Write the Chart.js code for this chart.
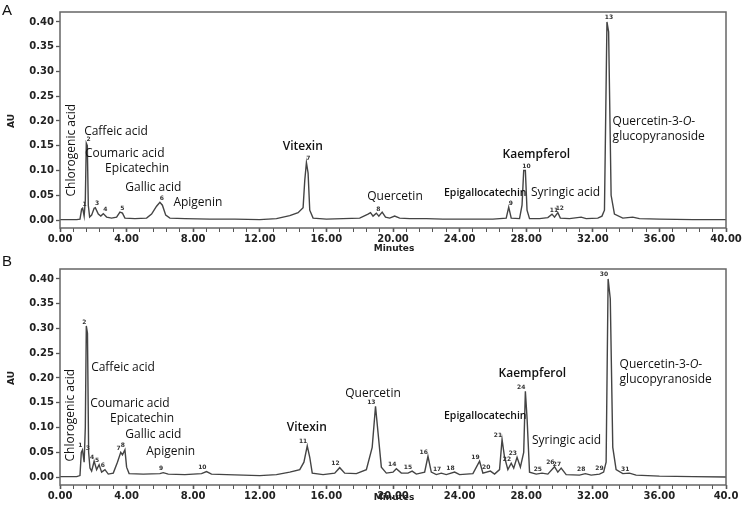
<!DOCTYPE html>
<html>
<head>
<meta charset="utf-8">
<script src="https://cdn.jsdelivr.net/npm/chart.js@4.4.1/dist/chart.umd.min.js"></script>
<style>
  body { margin: 0; background: #fff; }
  #wrap { position: relative; width: 744px; height: 511px; }
  canvas { position: absolute; left: 0; }
  #chartA { top: 0; }
  #chartB { top: 250px; }
</style>
</head>
<body>
<div id="wrap">
  <canvas id="chartA" width="744" height="256"></canvas>
  <canvas id="chartB" width="744" height="261"></canvas>
</div>
<script>
// ---- data: panel A (retention time in minutes, absorbance in AU)
const timesA = [0, 1.0, 1.2, 1.3, 1.36, 1.45, 1.52, 1.58, 1.64, 1.7, 1.78, 1.9, 2.05, 2.12, 2.3, 2.45, 2.6, 2.8, 3.1, 3.4,
  3.6, 3.75, 3.9, 4.5, 5.2, 5.5, 5.8, 6.0, 6.15, 6.35, 6.6, 7.5, 9, 10.5, 12, 13, 13.8, 14.3, 14.6, 14.7,
  14.8, 14.9, 15.0, 15.2, 16, 17, 18.0, 18.5, 18.65, 18.8, 19.0, 19.15, 19.35, 19.55, 19.8, 20.1, 20.4, 21, 22, 23,
  24, 25, 26, 26.8, 26.95, 27.1, 27.6, 27.75, 27.85, 27.95, 28.05, 28.2, 28.8, 29.3, 29.55, 29.7, 29.9, 30.05, 30.6, 31.3,
  31.6, 32.3, 32.55, 32.7, 32.85, 32.95, 33.1, 33.3, 33.8, 34.4, 34.8, 36, 38, 40];
const auA = [0.001, 0.001, 0.002, 0.022, 0.024, 0.008, 0.04, 0.155, 0.15, 0.03, 0.006, 0.01, 0.024, 0.025, 0.012, 0.008, 0.013, 0.006, 0.004, 0.006,
  0.016, 0.014, 0.004, 0.003, 0.004, 0.012, 0.028, 0.036, 0.03, 0.01, 0.004, 0.003, 0.002, 0.002, 0.001, 0.003, 0.009, 0.015, 0.025, 0.08,
  0.116, 0.095, 0.02, 0.004, 0.002, 0.003, 0.004, 0.012, 0.015, 0.008, 0.014, 0.008, 0.016, 0.006, 0.004, 0.008, 0.004, 0.003, 0.003, 0.002,
  0.002, 0.002, 0.002, 0.004, 0.026, 0.004, 0.003, 0.03, 0.1, 0.1, 0.02, 0.003, 0.003, 0.005, 0.012, 0.006, 0.015, 0.004, 0.003, 0.006,
  0.003, 0.004, 0.008, 0.02, 0.4, 0.38, 0.05, 0.012, 0.004, 0.006, 0.003, 0.002, 0.001, 0.001];
const peakTimesA = [1.36, 1.6, 2.1, 2.6, 3.62, 6.0, 14.8, 19.0, 26.95, 27.9, 29.55, 29.9, 32.85];

// ---- data: panel B
const timesB = [0, 1.0, 1.2, 1.28, 1.35, 1.45, 1.52, 1.58, 1.65, 1.72, 1.8, 1.9, 2.05, 2.2, 2.35, 2.5, 2.7, 2.9, 3.2, 3.45,
  3.65, 3.75, 3.9, 4.0, 4.15, 5, 6, 6.2, 6.5, 7.5, 8.5, 8.8, 9.1, 10, 11, 12, 13, 13.8, 14.4, 14.65,
  14.85, 15.0, 15.15, 15.8, 16.5, 16.8, 17.1, 17.8, 18.4, 18.75, 18.95, 19.1, 19.3, 19.6, 20.0, 20.2, 20.5, 20.9, 21.15, 21.4,
  21.9, 22.1, 22.3, 22.6, 22.9, 23.2, 23.7, 24, 24.8, 25.2, 25.4, 25.85, 26.1, 26.4, 26.55, 26.7, 26.9, 27.1, 27.25, 27.45,
  27.65, 27.85, 27.95, 28.05, 28.2, 28.6, 28.95, 29.3, 29.7, 29.9, 30.1, 30.4, 31.2, 31.55, 31.9, 32.4, 32.65, 32.8, 32.92, 33.05,
  33.2, 33.4, 33.8, 34.2, 34.6, 36, 38, 40];
const auB = [0.001, 0.001, 0.003, 0.05, 0.055, 0.03, 0.1, 0.305, 0.29, 0.05, 0.018, 0.012, 0.032, 0.015, 0.025, 0.01, 0.015, 0.006, 0.008, 0.03,
  0.05, 0.045, 0.055, 0.02, 0.007, 0.006, 0.007, 0.009, 0.006, 0.005, 0.007, 0.011, 0.006, 0.005, 0.004, 0.003, 0.005, 0.01, 0.015, 0.03,
  0.063, 0.04, 0.008, 0.005, 0.008, 0.019, 0.008, 0.007, 0.015, 0.06, 0.143, 0.09, 0.02, 0.008, 0.01, 0.017, 0.008, 0.008, 0.012, 0.006,
  0.01, 0.042, 0.01, 0.005, 0.008, 0.005, 0.01, 0.005, 0.007, 0.032, 0.008, 0.012, 0.006, 0.015, 0.076, 0.04, 0.015, 0.028, 0.018, 0.04,
  0.02, 0.05, 0.173, 0.12, 0.01, 0.006, 0.008, 0.006, 0.021, 0.01, 0.018, 0.005, 0.004, 0.007, 0.004, 0.006, 0.01, 0.03, 0.4, 0.36,
  0.06, 0.015, 0.007, 0.008, 0.004, 0.002, 0.001, 0];
const peakTimesB = [1.35, 1.58, 1.8, 2.05, 2.35, 2.7, 3.65, 3.9, 6.2, 8.8, 14.85, 16.8, 18.95, 20.2, 21.15, 22.1, 22.9, 23.7, 25.2, 25.85,
  26.55, 27.1, 27.45, 27.95, 28.95, 29.7, 30.1, 31.55, 32.65, 32.92, 34.2];

// ---- tick labels
const yTicks = [0, 0.05, 0.10, 0.15, 0.20, 0.25, 0.30, 0.35, 0.40];
const yLabels = ['0.00', '0.05', '0.10', '0.15', '0.20', '0.25', '0.30', '0.35', '0.40'];
const xLabelsA = ['0.00', '4.00', '8.00', '12.00', '16.00', '20.00', '24.00', '28.00', '32.00', '36.00', '40.00'];
const xLabelsB = ['0.00', '4.00', '8.00', '12.00', '16.00', '20.00', '24.00', '28.00', '32.00', '36.00', '40.0'];

// compound names, anchored in data coords (minutes, AU)
const namesA = [
  { text: 'Chlorogenic acid', t: 0.72, v: 0.141, rot: true },
  { text: 'Caffeic acid', t: 1.45, v: 0.178, align: 'left' },
  { text: 'Coumaric acid', t: 1.5, v: 0.135, align: 'left' },
  { text: 'Epicatechin', t: 2.71, v: 0.103, align: 'left' },
  { text: 'Gallic acid', t: 3.92, v: 0.065, align: 'left' },
  { text: 'Apigenin', t: 6.81, v: 0.036, align: 'left' },
  { text: 'Vitexin', t: 14.58, v: 0.149, bold: true },
  { text: 'Quercetin', t: 20.12, v: 0.048 },
  { text: 'Epigallocatechin', t: 25.54, v: 0.055, bold: true, size: 10.5 },
  { text: 'Kaempferol', t: 28.61, v: 0.133, bold: true },
  { text: 'Syringic acid', t: 30.36, v: 0.055 },
  { text: ['Quercetin-3-', ['O'], '-'], t: 33.19, v: 0.198, align: 'left' },
  { text: 'glucopyranoside', t: 33.19, v: 0.168, align: 'left' }
];
const namesB = [
  { text: 'Chlorogenic acid', t: 0.66, v: 0.125, rot: true },
  { text: 'Caffeic acid', t: 1.87, v: 0.221, align: 'left' },
  { text: 'Coumaric acid', t: 1.81, v: 0.149, align: 'left' },
  { text: 'Epicatechin', t: 3.01, v: 0.118, align: 'left' },
  { text: 'Gallic acid', t: 3.92, v: 0.086, align: 'left' },
  { text: 'Apigenin', t: 5.18, v: 0.052, align: 'left' },
  { text: 'Vitexin', t: 14.82, v: 0.100, bold: true },
  { text: 'Quercetin', t: 18.8, v: 0.169 },
  { text: 'Epigallocatechin', t: 25.54, v: 0.124, bold: true, size: 10.5 },
  { text: 'Kaempferol', t: 28.37, v: 0.209, bold: true },
  { text: 'Syringic acid', t: 30.42, v: 0.074 },
  { text: ['Quercetin-3-', ['O'], '-'], t: 33.61, v: 0.227, align: 'left' },
  { text: 'glucopyranoside', t: 33.61, v: 0.197, align: 'left' }
];

const minorX = [];
for (let i = 0; i <= 50; i++) minorX.push(Math.round(i * 8) / 10);
const isMajor = v => Math.abs(v / 4 - Math.round(v / 4)) < 1e-6;

function drawRich(ctx, parts, x, y, font, italicFont) {
  let cx = x;
  parts.forEach(p => {
    const it = Array.isArray(p);
    const s = it ? p[0] : p;
    ctx.font = it ? italicFont : font;
    ctx.fillText(s, cx, y);
    cx += ctx.measureText(s).width;
  });
}

const decor = {
  id: 'decor',
  afterDatasetsDraw(chart, args, o) {
    const ctx = chart.ctx, a = chart.chartArea;
    const xs = chart.scales.x, ys = chart.scales.y;
    ctx.save();
    ctx.strokeStyle = '#666';
    ctx.lineWidth = 1.5;
    ctx.strokeRect(a.left, a.top, a.right - a.left, a.bottom - a.top);

    ctx.fillStyle = '#111';
    ctx.textAlign = 'left';
    ctx.textBaseline = 'top';
    ctx.font = '15px "Liberation Sans"';
    ctx.fillText(o.letter, 2, o.letterY);

    // axis titles
    ctx.font = 'bold 9px "DejaVu Sans"';
    ctx.textAlign = 'center';
    ctx.textBaseline = 'middle';
    ctx.fillStyle = '#222';
    ctx.fillText('Minutes', 394, o.minutesY);
    ctx.save();
    ctx.translate(12, ys.getPixelForValue(0.2));
    ctx.rotate(-Math.PI / 2);
    ctx.fillText('AU', 0, 0);
    ctx.restore();

    // compound names
    ctx.fillStyle = '#111';
    o.names.forEach(n => {
      const x = xs.getPixelForValue(n.t), y = ys.getPixelForValue(n.v);
      const sz = n.size || 12;
      const font = (n.bold ? '600 ' : '500 ') + sz + 'px "Open Sans"';
      ctx.textBaseline = 'middle';
      if (n.rot) {
        ctx.save();
        ctx.translate(x, y);
        ctx.rotate(-Math.PI / 2);
        ctx.textAlign = 'center';
        ctx.font = font;
        ctx.fillText(n.text, 0, 0);
        ctx.restore();
      } else if (Array.isArray(n.text)) {
        ctx.textAlign = 'left';
        drawRich(ctx, n.text, x, y, font, 'italic ' + font);
      } else {
        ctx.textAlign = n.align || 'center';
        ctx.font = font;
        ctx.fillText(n.text, x, y);
      }
    });

    // peak numbers above each apex
    ctx.font = 'bold 6px "DejaVu Sans"';
    ctx.textAlign = o.numAlign;
    ctx.textBaseline = 'bottom';
    ctx.fillStyle = '#333';
    o.peaks.forEach((pt, i) => {
      let best = 0;
      o.times.forEach((t, j) => { if (Math.abs(t - pt) <= 0.12 && o.vals[j] > best) best = o.vals[j]; });
      const x = xs.getPixelForValue(pt) + o.numDx, y = ys.getPixelForValue(best) - 1;
      ctx.fillText(String(i + 1), x, y);
    });
    ctx.restore();
  }
};

function makeChart(id, cfg) {
  return new Chart(document.getElementById(id), {
    type: 'line',
    data: {
      datasets: [{
        data: cfg.times.map((t, i) => ({ x: t, y: cfg.vals[i] })),
        borderColor: '#444',
        borderWidth: 1.4,
        pointRadius: 0,
        tension: 0
      }]
    },
    options: {
      responsive: false,
      animation: false,
      layout: { padding: { top: cfg.top, right: 18, left: 0, bottom: 0 } },
      plugins: { legend: { display: false }, tooltip: { enabled: false }, decor: cfg },
      scales: {
        x: {
          type: 'linear', min: 0, max: 40,
          border: { display: false },
          grid: {
            drawOnChartArea: false, tickLength: 4, tickColor: '#555',
            tickWidth: c => (c.tick && isMajor(c.tick.value)) ? 1.6 : 1
          },
          ticks: {
            autoSkip: false, maxRotation: 0, padding: 1, color: '#222',
            font: { family: 'DejaVu Sans', weight: 'bold', size: 10 },
            callback: v => isMajor(v) ? cfg.xLabels[Math.round(v / 4)] : ''
          },
          afterBuildTicks: s => { s.ticks = minorX.map(v => ({ value: v })); },
          afterFit: s => { s.height = cfg.xh; }
        },
        y: {
          min: -0.016, max: 0.42,
          border: { display: false },
          grid: { drawOnChartArea: false, tickLength: 4, tickColor: '#555', tickWidth: 1.3 },
          ticks: {
            padding: 2, color: '#222',
            font: { family: 'DejaVu Sans', weight: 'bold', size: 10 },
            callback: (v, i) => yLabels[i]
          },
          afterBuildTicks: s => { s.ticks = yTicks.map(v => ({ value: v })); },
          afterFit: s => { s.width = 60; }
        }
      }
    },
    plugins: [decor]
  });
}

makeChart('chartA', {
  times: timesA, vals: auA, peaks: peakTimesA, names: namesA, xLabels: xLabelsA,
  letter: 'A', letterY: 3, top: 12, xh: 28, minutesY: 249, numAlign: 'center', numDx: 2
});
makeChart('chartB', {
  times: timesB, vals: auB, peaks: peakTimesB, names: namesB, xLabels: xLabelsB,
  letter: 'B', letterY: 4, top: 19, xh: 26, minutesY: 248, numAlign: 'right', numDx: 0
});
</script>
</body>
</html>
